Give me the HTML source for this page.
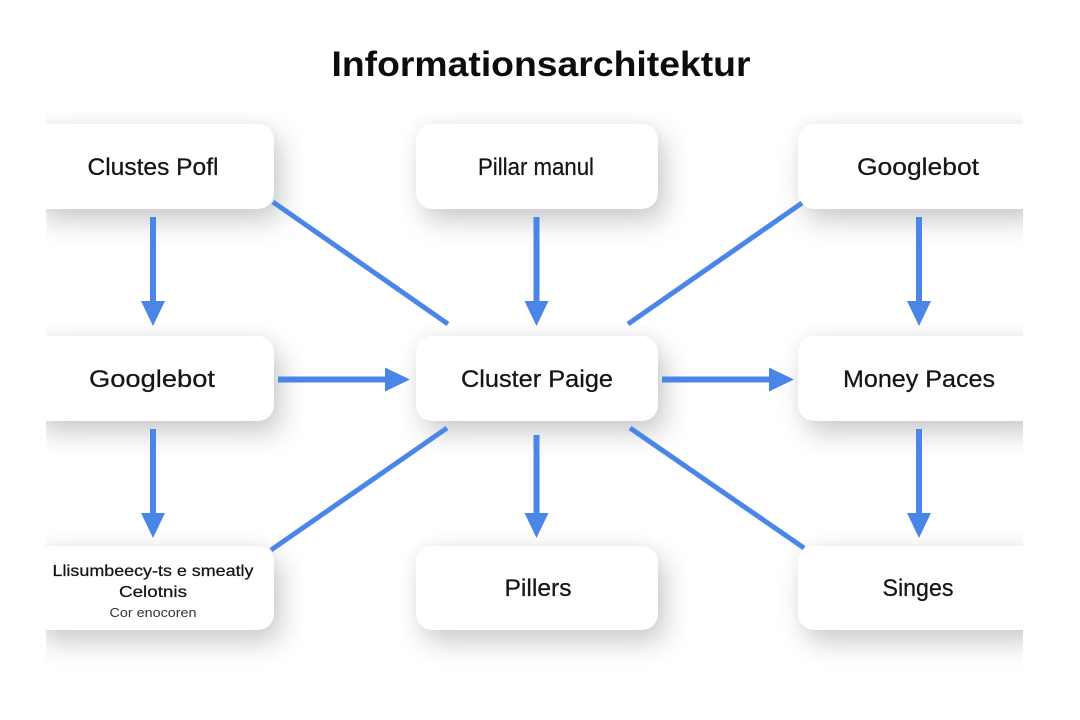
<!DOCTYPE html>
<html><head><meta charset="utf-8"><style>
html,body{margin:0;padding:0;background:#fff}
body{width:1080px;height:720px;position:relative;overflow:hidden}
#clip{position:absolute;left:46px;top:90px;width:977px;height:590px;overflow:hidden}
.c{position:absolute;width:242px;background:#fff;border-radius:16px;box-shadow:7px 12px 26px rgba(60,64,70,.27),0 -4px 12px rgba(60,64,70,.04)}
svg{position:absolute;left:0;top:0}
text{font-family:"Liberation Sans",sans-serif;fill:#151515;text-anchor:middle;stroke:#151515;stroke-width:.25}
</style></head><body>
<div id="clip">
<div class="c" style="left:-14px;top:34px;height:85px"></div>
<div class="c" style="left:370px;top:34px;height:85px"></div>
<div class="c" style="left:752px;top:34px;height:85px"></div>
<div class="c" style="left:-14px;top:246px;height:85px"></div>
<div class="c" style="left:370px;top:246px;height:85px"></div>
<div class="c" style="left:752px;top:246px;height:85px"></div>
<div class="c" style="left:-14px;top:456px;height:84px"></div>
<div class="c" style="left:370px;top:456px;height:84px"></div>
<div class="c" style="left:752px;top:456px;height:84px"></div>
</div>
<svg width="1080" height="720" viewBox="0 0 1080 720">
<text x="541" y="76" font-size="35" font-weight="700" textLength="419" lengthAdjust="spacingAndGlyphs" style="stroke-width:0;fill:#0d0d0d">Informationsarchitektur</text>
<g stroke="#4a86e8" stroke-width="6" fill="none">
<line x1="153" y1="217" x2="153" y2="302"/>
<line x1="536.500" y1="217" x2="536.500" y2="302"/>
<line x1="919" y1="217" x2="919" y2="302"/>
<line x1="153" y1="429" x2="153" y2="514"/>
<line x1="536.500" y1="435" x2="536.500" y2="514"/>
<line x1="919" y1="429" x2="919" y2="514"/>
<line x1="278" y1="379.500" x2="386" y2="379.500"/>
<line x1="662" y1="379.500" x2="770" y2="379.500"/>
</g>
<g stroke="#4a86e8" stroke-width="5" fill="none">
<line x1="273" y1="202" x2="448" y2="324"/>
<line x1="802" y1="203" x2="628" y2="324"/>
<line x1="447" y1="428" x2="271" y2="550"/>
<line x1="630" y1="428" x2="804" y2="548"/>
</g>
<g fill="#4a86e8">
<polygon points="141,301 165,301 153,326"/>
<polygon points="524.500,301 548.500,301 536.500,326"/>
<polygon points="907,301 931,301 919,326"/>
<polygon points="141,513 165,513 153,538"/>
<polygon points="524.500,513 548.500,513 536.500,538"/>
<polygon points="907,513 931,513 919,538"/>
<polygon points="385,367.500 385,391.500 410,379.500"/>
<polygon points="769,367.500 769,391.500 794,379.500"/>
</g>
<text x="153" y="175" font-size="24" textLength="131" lengthAdjust="spacingAndGlyphs">Clustes Pofl</text>
<text x="536" y="175" font-size="24" textLength="116" lengthAdjust="spacingAndGlyphs">Pillar manul</text>
<text x="918" y="175" font-size="24" textLength="122" lengthAdjust="spacingAndGlyphs">Googlebot</text>
<text x="152" y="387" font-size="24" textLength="126" lengthAdjust="spacingAndGlyphs">Googlebot</text>
<text x="537" y="387" font-size="24" textLength="152" lengthAdjust="spacingAndGlyphs">Cluster Paige</text>
<text x="919" y="387" font-size="24" textLength="152" lengthAdjust="spacingAndGlyphs">Money Paces</text>
<text x="538" y="596" font-size="24" textLength="67" lengthAdjust="spacingAndGlyphs">Pillers</text>
<text x="918" y="596" font-size="24" textLength="71" lengthAdjust="spacingAndGlyphs">Singes</text>
<text x="153" y="576" font-size="16" textLength="201" lengthAdjust="spacingAndGlyphs">Llisumbeecy-ts e smeatly</text>
<text x="153" y="597" font-size="16" textLength="68" lengthAdjust="spacingAndGlyphs">Celotnis</text>
<text x="153" y="617" font-size="13" textLength="87" lengthAdjust="spacingAndGlyphs" style="stroke-width:0;fill:#333">Cor enocoren</text>
</svg>
</body></html>
